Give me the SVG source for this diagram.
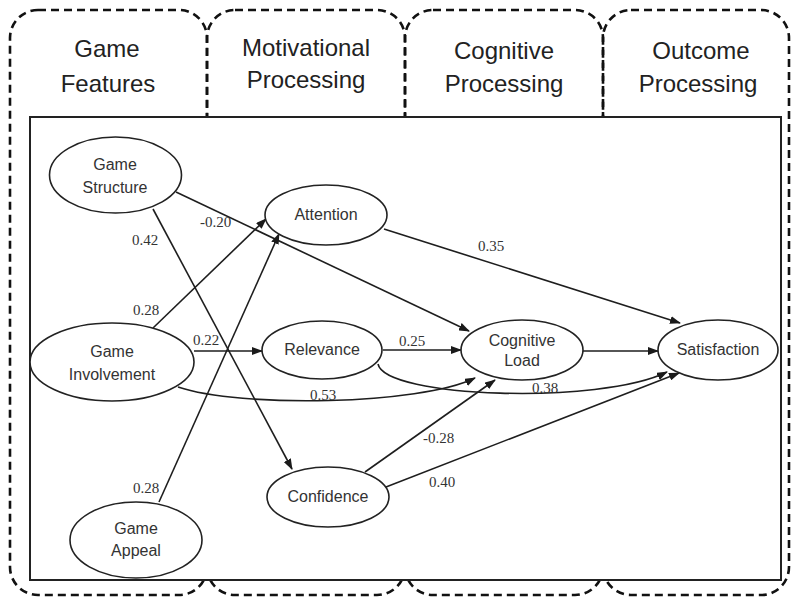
<svg xmlns="http://www.w3.org/2000/svg" width="791" height="597" viewBox="0 0 791 597">
  <defs>
    <marker id="arr" markerWidth="11" markerHeight="8" refX="10" refY="4" orient="auto" markerUnits="userSpaceOnUse">
      <path d="M0,0 L11,4 L0,8 Z" fill="#1a1a1a"/>
    </marker>
    <style>
      .col { fill: none; stroke: #111; stroke-width: 2.6; stroke-dasharray: 8 5; }
      .hdr { font-family: "Liberation Sans", Arial, sans-serif; font-size: 24px; fill: #222; text-anchor: middle; }
      .node ellipse { fill: #fff; stroke: #222; stroke-width: 1.6; }
      .node text { font-family: "Liberation Sans", Arial, sans-serif; font-size: 16px; fill: #333; text-anchor: middle; }
      .edge { fill: none; stroke: #1e1e1e; stroke-width: 1.6; marker-end: url(#arr); }
      .lbl { font-family: "Liberation Serif", "Times New Roman", serif; font-size: 15px; fill: #333; }
    </style>
  </defs>

  <rect width="791" height="597" fill="#fff"/>

  <g id="columns">
    <rect class="col" x="10" y="10" width="197" height="585" rx="28" ry="28"/>
    <rect class="col" x="207" y="10" width="198" height="585" rx="28" ry="28"/>
    <rect class="col" x="405" y="10" width="198" height="585" rx="28" ry="28"/>
    <rect class="col" x="603" y="10" width="186" height="585" rx="28" ry="28"/>
  </g>

  <g id="headers">
    <text class="hdr" x="107" y="57">Game</text>
    <text class="hdr" x="108" y="92">Features</text>
    <text class="hdr" x="306" y="56">Motivational</text>
    <text class="hdr" x="306" y="88">Processing</text>
    <text class="hdr" x="504" y="59">Cognitive</text>
    <text class="hdr" x="504" y="92">Processing</text>
    <text class="hdr" x="701" y="59">Outcome</text>
    <text class="hdr" x="698" y="92">Processing</text>
  </g>

  <rect id="frame" x="30" y="117" width="751" height="463" fill="#fff" stroke="#222" stroke-width="2"/>

  <g id="connectors">
    <line class="edge" x1="153" y1="209" x2="292" y2="469"/>
    <line class="edge" x1="176" y1="192" x2="469" y2="331"/>
    <line class="edge" x1="153" y1="328" x2="266" y2="219"/>
    <line class="edge" x1="159" y1="502" x2="279" y2="234"/>
    <line class="edge" x1="194" y1="351" x2="262" y2="351"/>
    <path class="edge" d="M178,387 C240,408 420,405 475,378"/>
    <line class="edge" x1="383" y1="350" x2="461" y2="350"/>
    <path class="edge" d="M378,364 C385,398 600,405 667,372"/>
    <line class="edge" x1="583" y1="351" x2="658" y2="351"/>
    <line class="edge" x1="384" y1="229" x2="680" y2="323"/>
    <line class="edge" x1="365" y1="472" x2="495" y2="380"/>
    <line class="edge" x1="386" y1="487" x2="679" y2="373"/>
  </g>

  <g id="edge-labels">
    <text class="lbl" x="200" y="227">-0.20</text>
    <text class="lbl" x="132" y="245">0.42</text>
    <text class="lbl" x="478" y="251">0.35</text>
    <text class="lbl" x="133" y="315">0.28</text>
    <text class="lbl" x="193" y="345">0.22</text>
    <text class="lbl" x="310" y="400">0.53</text>
    <text class="lbl" x="399" y="346">0.25</text>
    <text class="lbl" x="532" y="393">0.38</text>
    <text class="lbl" x="423" y="443">-0.28</text>
    <text class="lbl" x="429" y="487">0.40</text>
    <text class="lbl" x="133" y="493">0.28</text>
  </g>

  <g id="game-structure" class="node">
    <ellipse cx="115.5" cy="175" rx="66" ry="38"/>
    <text x="115" y="170">Game</text>
    <text x="115" y="193">Structure</text>
  </g>
  <g id="attention" class="node">
    <ellipse cx="326" cy="215" rx="61" ry="30"/>
    <text x="326" y="220">Attention</text>
  </g>
  <g id="game-involvement" class="node">
    <ellipse cx="112" cy="362" rx="82" ry="39"/>
    <text x="112" y="357">Game</text>
    <text x="112" y="380">Involvement</text>
  </g>
  <g id="relevance" class="node">
    <ellipse cx="322" cy="350" rx="60" ry="29"/>
    <text x="322" y="355">Relevance</text>
  </g>
  <g id="cognitive-load" class="node">
    <ellipse cx="522" cy="350" rx="61" ry="30"/>
    <text x="522" y="346">Cognitive</text>
    <text x="522" y="366">Load</text>
  </g>
  <g id="satisfaction" class="node">
    <ellipse cx="718" cy="350" rx="60" ry="30"/>
    <text x="718" y="355">Satisfaction</text>
  </g>
  <g id="confidence" class="node">
    <ellipse cx="328" cy="497" rx="61" ry="30"/>
    <text x="328" y="502">Confidence</text>
  </g>
  <g id="game-appeal" class="node">
    <ellipse cx="136" cy="540" rx="66" ry="38"/>
    <text x="136" y="534">Game</text>
    <text x="136" y="556">Appeal</text>
  </g>
</svg>
